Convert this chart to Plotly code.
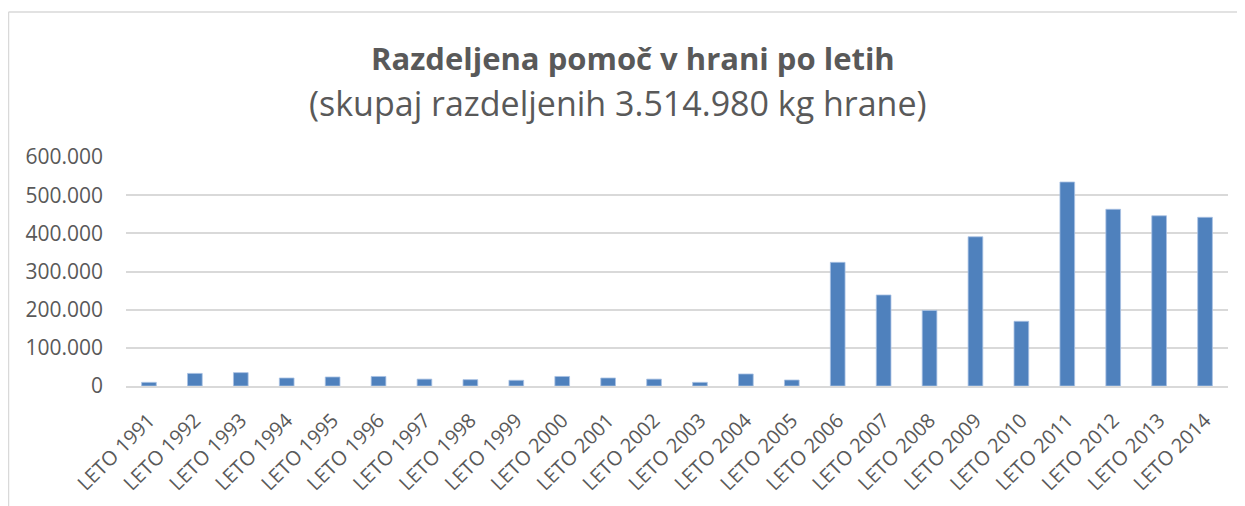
import plotly.graph_objects as go

years = [f"LETO {y}" for y in range(1991, 2015)]
values = [9600, 33000, 35000, 21000, 23600, 25000, 18000, 16600, 15000, 25000,
          21000, 18000, 9600, 31500, 15700, 324000, 238500, 198000, 391000,
          169500, 534500, 463000, 446000, 442000]
y_ticks = [0, 100000, 200000, 300000, 400000, 500000, 600000]
y_tick_labels = ["0", "100.000", "200.000", "300.000", "400.000", "500.000", "600.000"]
title_main = "Razdeljena pomoč v hrani po letih"
title_sub = "(skupaj razdeljenih 3.514.980 kg hrane)"

# page has an 8px body margin, so the figure is sized to fit the 1245x506 window
W, H = 1237, 498
ml, mr, mt, mb = 118, 17, 149, 120
pw, ph = W - ml - mr, H - mt - mb

fig = go.Figure(go.Bar(
    x=years, y=values,
    marker=dict(color="#4F81BD", line=dict(color="#A9C2E3", width=0.8)),
    width=0.32,
))

font_fam = "Open Sans, Lato, DejaVu Sans, sans-serif"
grey = "#595959"


def px(xp):
    return (xp - ml) / pw


def py(yp):
    return (H - yp - mb) / ph


fig.update_layout(
    width=W, height=H,
    margin=dict(l=ml, r=mr, t=mt, b=mb, autoexpand=False),
    paper_bgcolor="white", plot_bgcolor="white",
    showlegend=False,
    font=dict(family=font_fam, color=grey),
    xaxis=dict(
        tickangle=-45, tickfont=dict(size=20, color=grey),
        showgrid=False, showline=True, linecolor="#D9D9D9", linewidth=1.5,
        ticks="", ticklen=0, ticklabelstandoff=13, automargin=False,
    ),
    yaxis=dict(
        range=[0, 600000], tickvals=y_ticks, ticktext=y_tick_labels,
        tickfont=dict(size=21, color=grey),
        showgrid=True, gridcolor="#D9D9D9", gridwidth=1.5,
        zeroline=False, showline=False, ticks="", ticklabelstandoff=22,
        automargin=False,
    ),
    annotations=[
        dict(text=f"<b>{title_main}</b>", xref="paper", yref="paper",
             x=px(625), y=py(50), xanchor="center", yanchor="middle",
             showarrow=False, font=dict(size=31, color=grey, family=font_fam)),
        dict(text=title_sub, xref="paper", yref="paper",
             x=px(610), y=py(95), xanchor="center", yanchor="middle",
             showarrow=False, font=dict(size=34, color=grey, family=font_fam)),
    ],
    shapes=[
        dict(type="line", xref="paper", yref="paper",
             x0=px(0.5), x1=px(W + 5), y0=py(4), y1=py(4),
             line=dict(color="#D9D9D9", width=1.5)),
        dict(type="line", xref="paper", yref="paper",
             x0=px(0.5), x1=px(0.5), y0=py(4), y1=py(H + 10),
             line=dict(color="#D9D9D9", width=1.5)),
    ],
)

fig.write_html("out.html")
